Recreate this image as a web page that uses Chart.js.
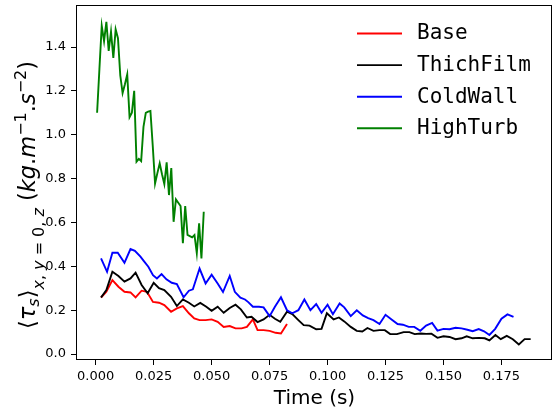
<!DOCTYPE html>
<html>
<head>
<meta charset="utf-8">
<script src="https://cdn.jsdelivr.net/npm/chart.js@4/dist/chart.umd.min.js"></script>
<style>
  body { margin: 0; background: #fff; }
  canvas { display: block; }
</style>
</head>
<body>
<canvas id="tauChart" width="555" height="413"></canvas>
<script>
// series: time (s) and <tau_s> values
var baseTime = [0.0023, 0.0046, 0.0072, 0.0098, 0.0124, 0.0150, 0.0172, 0.0198, 0.0221, 0.0247,
    0.0273, 0.0296, 0.0325, 0.0350, 0.0376, 0.0402, 0.0425, 0.0448, 0.0474, 0.0500,
    0.0526, 0.0552, 0.0578, 0.0603, 0.0629, 0.0652, 0.0678, 0.0698, 0.0724, 0.0750,
    0.0776, 0.0799, 0.0825];
var baseVal = [0.258, 0.284, 0.337, 0.307, 0.284, 0.281, 0.258, 0.289, 0.284, 0.238,
    0.234, 0.223, 0.193, 0.208, 0.219, 0.186, 0.163, 0.155, 0.155, 0.158,
    0.147, 0.124, 0.128, 0.117, 0.117, 0.124, 0.158, 0.109, 0.109, 0.106,
    0.097, 0.094, 0.137];

var thickTime = [0.0023, 0.0046, 0.0072, 0.0098, 0.0124, 0.0150, 0.0172, 0.0198, 0.0224, 0.0250,
    0.0273, 0.0296, 0.0325, 0.0350, 0.0376, 0.0402, 0.0425, 0.0451, 0.0477, 0.0500,
    0.0526, 0.0552, 0.0578, 0.0603, 0.0626, 0.0652, 0.0672, 0.0698, 0.0724, 0.0750,
    0.0773, 0.0796, 0.0825, 0.0848, 0.0874, 0.0897, 0.0922, 0.0951, 0.0974, 0.0997,
    0.1026, 0.1049, 0.1072, 0.1100, 0.1126, 0.1150, 0.1172, 0.1198, 0.1224, 0.1247,
    0.1270, 0.1299, 0.1328, 0.1353, 0.1376, 0.1402, 0.1425, 0.1448, 0.1474, 0.1500,
    0.1526, 0.1552, 0.1578, 0.1600, 0.1626, 0.1652, 0.1678, 0.1698, 0.1724, 0.1747,
    0.1773, 0.1799, 0.1825, 0.1850, 0.1876];
var thickVal = [0.258, 0.292, 0.375, 0.356, 0.330, 0.345, 0.371, 0.315, 0.277, 0.325,
    0.300, 0.292, 0.261, 0.219, 0.249, 0.234, 0.217, 0.233, 0.216, 0.197,
    0.216, 0.188, 0.210, 0.225, 0.204, 0.167, 0.170, 0.146, 0.158, 0.179,
    0.161, 0.147, 0.193, 0.182, 0.155, 0.132, 0.130, 0.113, 0.115, 0.186,
    0.158, 0.167, 0.149, 0.124, 0.106, 0.103, 0.119, 0.106, 0.109, 0.109,
    0.091, 0.091, 0.100, 0.100, 0.091, 0.094, 0.092, 0.093, 0.074, 0.081,
    0.078, 0.068, 0.072, 0.081, 0.072, 0.074, 0.072, 0.062, 0.087, 0.068,
    0.083, 0.068, 0.044, 0.068, 0.068];

var coldTime = [0.0023, 0.0049, 0.0072, 0.0095, 0.0124, 0.0150, 0.0169, 0.0193, 0.0207, 0.0227,
    0.0247, 0.0264, 0.0284, 0.0305, 0.0328, 0.0350, 0.0379, 0.0402, 0.0419, 0.0448,
    0.0474, 0.0500, 0.0526, 0.0549, 0.0578, 0.0600, 0.0624, 0.0644, 0.0658, 0.0678,
    0.0704, 0.0724, 0.0750, 0.0773, 0.0799, 0.0825, 0.0848, 0.0874, 0.0900, 0.0926,
    0.0951, 0.0974, 0.1000, 0.1023, 0.1052, 0.1072, 0.1100, 0.1126, 0.1152, 0.1175,
    0.1198, 0.1224, 0.1250, 0.1276, 0.1302, 0.1325, 0.1350, 0.1374, 0.1400, 0.1425,
    0.1451, 0.1474, 0.1500, 0.1526, 0.1552, 0.1578, 0.1603, 0.1626, 0.1652, 0.1675,
    0.1698, 0.1723, 0.1750, 0.1776, 0.1802];
var coldVal = [0.436, 0.375, 0.462, 0.462, 0.416, 0.479, 0.471, 0.444, 0.425, 0.398,
    0.360, 0.345, 0.365, 0.341, 0.325, 0.319, 0.259, 0.289, 0.295, 0.390,
    0.322, 0.362, 0.322, 0.283, 0.356, 0.284, 0.257, 0.249, 0.237, 0.216,
    0.216, 0.213, 0.173, 0.216, 0.259, 0.200, 0.186, 0.200, 0.249, 0.200,
    0.228, 0.188, 0.225, 0.182, 0.231, 0.213, 0.173, 0.200, 0.176, 0.164,
    0.155, 0.137, 0.179, 0.158, 0.137, 0.134, 0.124, 0.124, 0.106, 0.130,
    0.142, 0.107, 0.115, 0.113, 0.120, 0.117, 0.111, 0.104, 0.114, 0.104,
    0.087, 0.115, 0.161, 0.181, 0.170];

var turbTime = [0.0006, 0.0016, 0.0026, 0.0036, 0.0046, 0.0056, 0.0066, 0.0076, 0.0086, 0.0096,
    0.0106, 0.0116, 0.0126, 0.0136, 0.0146, 0.0156, 0.0166, 0.0176, 0.0186, 0.0196,
    0.0206, 0.0216, 0.0226, 0.0236, 0.0246, 0.0256, 0.0266, 0.0276, 0.0286, 0.0296,
    0.0306, 0.0316, 0.0326, 0.0336, 0.0346, 0.0356, 0.0366, 0.0376, 0.0386, 0.0396,
    0.0406, 0.0416, 0.0426, 0.0436, 0.0446, 0.0456, 0.0466];
var turbVal = [1.100, 1.300, 1.497, 1.427, 1.515, 1.382, 1.470, 1.350, 1.480, 1.440,
    1.270, 1.190, 1.230, 1.275, 1.080, 1.100, 1.200, 0.877, 0.890, 0.880,
    1.036, 1.100, 1.105, 1.108, 0.950, 0.778, 0.825, 0.870, 0.820, 0.775,
    0.874, 0.725, 0.848, 0.603, 0.705, 0.690, 0.675, 0.505, 0.675, 0.543,
    0.538, 0.532, 0.543, 0.460, 0.596, 0.436, 0.649];

var seriesLabels = ["Base", "ThichFilm", "ColdWall", "HighTurb"];
var seriesColors = ["#ff0000", "#000000", "#0000ff", "#008000"];
var xTickStep = 0.025;
var yTickStep = 0.2;

function toPoints(times, values) {
    return times.map(function(t, i) { return { x: t, y: values[i] }; });
}

var allSeries = [[baseTime, baseVal], [thickTime, thickVal], [coldTime, coldVal], [turbTime, turbVal]];

var datasets = allSeries.map(function(s, i) {
    return {
        label: seriesLabels[i],
        data: toPoints(s[0], s[1]),
        borderColor: seriesColors[i],
        borderWidth: 1.9,
        pointRadius: 0,
        fill: false,
        tension: 0,
        order: 4 - i
    };
});

var FONT = "'DejaVu Sans', sans-serif";

// white page, frame around the plot area
var framePlugin = {
    id: 'frame',
    beforeDraw: function(chart) {
        var ctx = chart.ctx;
        ctx.save();
        ctx.fillStyle = '#ffffff';
        ctx.fillRect(0, 0, chart.width, chart.height);
        ctx.restore();
    },
    afterDraw: function(chart) {
        var a = chart.chartArea, ctx = chart.ctx;
        ctx.save();
        ctx.strokeStyle = '#000';
        ctx.lineWidth = 1;
        ctx.strokeRect(Math.round(a.left) + 0.5, Math.round(a.top) + 0.5,
            Math.round(a.right - a.left) - 1, Math.round(a.bottom - a.top) - 1);
        ctx.restore();
    }
};

// legend in the upper right of the axes
var legendPlugin = {
    id: 'insideLegend',
    afterDraw: function(chart) {
        var ctx = chart.ctx;
        ctx.save();
        ctx.font = "21px 'DejaVu Sans Mono', monospace";
        ctx.textBaseline = 'middle';
        chart.data.datasets.forEach(function(ds, i) {
            var y = 33.5 + i * 31.6;
            ctx.strokeStyle = ds.borderColor;
            ctx.lineWidth = 1.9;
            ctx.beginPath();
            ctx.moveTo(357, y);
            ctx.lineTo(402, y);
            ctx.stroke();
            ctx.fillStyle = '#000';
            ctx.fillText(ds.label, 417, y + 0.5);
        });
        ctx.restore();
    }
};

// axis titles, the y one with sub/superscripts
var titlePlugin = {
    id: 'axisTitles',
    afterDraw: function(chart) {
        var ctx = chart.ctx;
        ctx.save();
        ctx.fillStyle = '#000';
        ctx.font = '20px ' + FONT;
        ctx.textAlign = 'center';
        ctx.textBaseline = 'alphabetic';
        ctx.fillText('Time (s)', 314.5, 404);

        var big = 22.5, small = 16;
        var parts = [
            { t: '\u27E8', it: false, s: big, dy: 0 },
            { t: '\u03C4', it: true, s: big, dy: 0 },
            { t: 's', it: true, s: small, dy: 4 },
            { t: '\u27E9', it: false, s: big, dy: 0 },
            { t: 'x', it: true, s: small, dy: 9 },
            { t: ', ', it: false, s: small, dy: 9 },
            { t: 'y', it: true, s: small, dy: 9 },
            { t: ' = 0, ', it: false, s: small, dy: 9 },
            { t: 'z', it: true, s: small, dy: 9 },
            { t: ' (', it: false, s: big, dy: 0 },
            { t: 'kg', it: true, s: big, dy: 0 },
            { t: '.', it: false, s: big, dy: 0 },
            { t: 'm', it: true, s: big, dy: 0 },
            { t: '\u22121', it: false, s: small, dy: -9 },
            { t: '.', it: false, s: big, dy: 0 },
            { t: 's', it: true, s: big, dy: 0 },
            { t: '\u22122', it: false, s: small, dy: -9 },
            { t: ')', it: false, s: big, dy: 0 }
        ];
        function setFont(p) {
            ctx.font = (p.it ? 'italic ' : '') + p.s + 'px ' + FONT;
        }
        var total = 0;
        parts.forEach(function(p) { setFont(p); p.w = ctx.measureText(p.t).width; total += p.w; });
        ctx.translate(35, 195);
        ctx.rotate(-Math.PI / 2);
        ctx.textAlign = 'left';
        var x = -total / 2;
        parts.forEach(function(p) {
            setFont(p);
            ctx.fillText(p.t, x, p.dy);
            x += p.w;
        });
        ctx.restore();
    }
};

function noPad(scale) {
    scale.paddingTop = 0;
    scale.paddingBottom = 0;
    scale.paddingLeft = 0;
    scale.paddingRight = 0;
}

var ctx = document.getElementById('tauChart').getContext('2d');
var tauChart = new Chart(ctx, {
    type: 'line',
    data: { datasets: datasets },
    options: {
        responsive: false,
        animation: false,
        devicePixelRatio: 1,
        layout: { padding: { left: 0, right: 3, top: 5, bottom: 0 } },
        plugins: {
            legend: { display: false },
            tooltip: { enabled: false }
        },
        scales: {
            x: {
                type: 'linear',
                min: -0.0085,
                max: 0.1968,
                afterFit: function(scale) { scale.height = 53; noPad(scale); },
                border: { display: false },
                grid: { drawOnChartArea: false, drawTicks: true, tickLength: 5, color: '#000', lineWidth: 1 },
                ticks: {
                    stepSize: xTickStep,
                    includeBounds: false,
                    autoSkip: false,
                    maxRotation: 0,
                    padding: 4,
                    color: '#000',
                    font: { family: FONT, size: 13 },
                    callback: function(v) { return Number(v).toFixed(3); }
                }
            },
            y: {
                type: 'linear',
                min: -0.027,
                max: 1.5915,
                afterFit: function(scale) { scale.width = 76; noPad(scale); },
                border: { display: false },
                grid: { drawOnChartArea: false, drawTicks: true, tickLength: 5, color: '#000', lineWidth: 1 },
                ticks: {
                    stepSize: yTickStep,
                    includeBounds: false,
                    autoSkip: false,
                    padding: 5,
                    color: '#000',
                    font: { family: FONT, size: 13 },
                    callback: function(v) { return Number(v).toFixed(1); }
                }
            }
        }
    },
    plugins: [framePlugin, legendPlugin, titlePlugin]
});
</script>
</body>
</html>
